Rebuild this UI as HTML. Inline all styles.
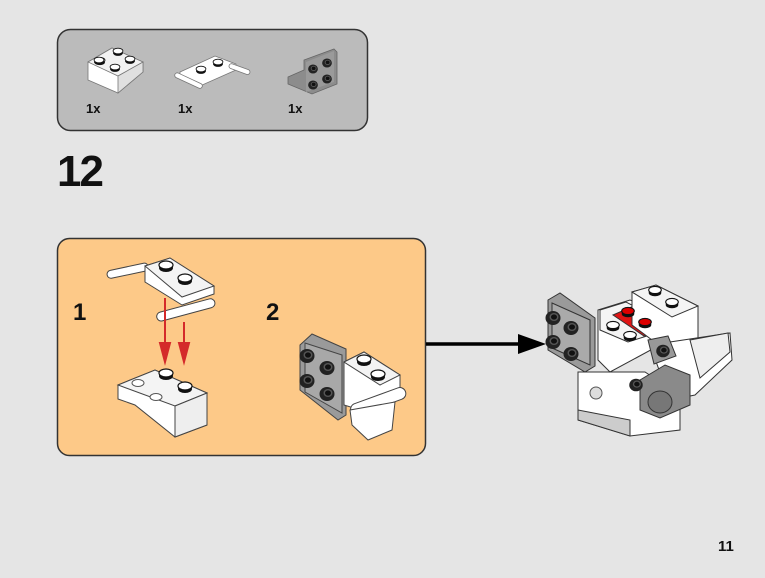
<!DOCTYPE html>
<html><head><meta charset="utf-8"><style>
html,body{margin:0;padding:0;background:#e5e5e5;width:765px;height:578px;overflow:hidden}
svg{display:block}
text{font-family:"Liberation Sans",Arial,sans-serif;font-weight:bold;fill:#111}
</style></head><body>
<svg width="765" height="578" viewBox="0 0 765 578" xmlns="http://www.w3.org/2000/svg">
<defs>
<g id="stud"><ellipse cx="0" cy="3" rx="7" ry="4" fill="#111"/><ellipse cx="0" cy="0" rx="7" ry="4" fill="#fff" stroke="#111" stroke-width="1.2"/></g>
<g id="dstud"><ellipse cx="0" cy="0" rx="7.5" ry="7" fill="#222"/><ellipse cx="1" cy="-1" rx="4.5" ry="4" fill="#555"/><ellipse cx="1" cy="-1" rx="3" ry="2.6" fill="#111"/></g>
<g id="rstud"><ellipse cx="0" cy="3" rx="7" ry="4" fill="#111"/><ellipse cx="0" cy="0" rx="7" ry="4" fill="#d00" stroke="#111" stroke-width="1.2"/></g>
</defs>
<rect width="765" height="578" fill="#e5e5e5"/>

<!-- parts box -->
<rect x="57.5" y="29.5" width="310" height="101" rx="13" fill="#bbbbbb" stroke="#333" stroke-width="1.5"/>
<!-- part1 slope -->
<g stroke="#777" stroke-width="0.8">
<polygon points="88,62 112,48 143,62 143,72 118,93 88,80" fill="#fff"/>
<polygon points="88,62 112,48 143,62 118,76" fill="#f2f2f2"/>
<polygon points="118,76 143,62 143,72 118,93" fill="#e0e0e0"/>
</g>
<use href="#stud" x="100" y="60" transform="scale(0.7) translate(43,26)"/>
<use href="#stud" x="0" y="0" transform="translate(99,60) scale(0.7)"/>
<use href="#stud" x="0" y="0" transform="translate(115,67) scale(0.7)"/>
<use href="#stud" x="0" y="0" transform="translate(118,51) scale(0.7)"/>
<use href="#stud" x="0" y="0" transform="translate(130,59) scale(0.7)"/>
<text x="86" y="113" font-size="13">1x</text>
<!-- part2 -->
<g stroke="#777" stroke-width="0.8" fill="#fff">
<polygon points="180,72 215,56 236,64 236,70 200,86 180,78"/>
<rect x="176" y="72" width="30" height="5" rx="2.5" transform="rotate(25 176 72)"/>
<rect x="230" y="63" width="22" height="5" rx="2.5" transform="rotate(20 230 63)"/>
</g>
<use href="#stud" transform="translate(201,69) scale(0.7)"/>
<use href="#stud" transform="translate(218,62) scale(0.7)"/>
<text x="178" y="113" font-size="13">1x</text>
<!-- part3 bracket -->
<polygon points="288,77 304,70 304,60 334,49 337,52 337,84 312,94 288,84" fill="#8c8c8c" stroke="#666" stroke-width="0.8"/>
<polygon points="306,62 334,51 334,82 306,92" fill="#9a9a9a"/>
<use href="#dstud" transform="translate(313,69) scale(0.65)"/>
<use href="#dstud" transform="translate(327,63) scale(0.65)"/>
<use href="#dstud" transform="translate(313,85) scale(0.65)"/>
<use href="#dstud" transform="translate(327,79) scale(0.65)"/>
<text x="288" y="113" font-size="13">1x</text>

<!-- step number -->
<text x="57" y="186" font-size="44" letter-spacing="-2">12</text>

<!-- orange panel -->
<rect x="57.5" y="238.5" width="368" height="217" rx="12" fill="#fdc988" stroke="#333" stroke-width="1.5"/>
<text x="73" y="320" font-size="24">1</text>
<text x="266" y="320" font-size="24">2</text>

<!-- sub1: top plate with bars -->
<g stroke="#444" stroke-width="1" fill="#fff">
<rect x="108" y="271" width="42" height="8" rx="4" transform="rotate(-12 108 279)"/>
<polygon points="145,266 170,258 214,286 214,294 182,305 145,282"/>
<polygon points="145,266 170,258 214,286 182,297" fill="#f4f4f4"/>
<rect x="158" y="313" width="60" height="9" rx="4.5" transform="rotate(-15 158 322)"/>
</g>
<use href="#stud" transform="translate(166,265)"/>
<use href="#stud" transform="translate(185,278)"/>
<!-- red arrows -->
<g stroke="#d42a2a" stroke-width="2" fill="#d42a2a">
<line x1="165" y1="298" x2="165" y2="345"/><polygon points="160,343 170,343 165,362"/>
<line x1="184" y1="322" x2="184" y2="343"/><polygon points="179,343 189,343 184,362"/>
</g>
<!-- sub1: bottom slope -->
<g stroke="#444" stroke-width="1">
<polygon points="118,385 155,370 207,393 207,425 175,437 135,405 118,399" fill="#fff"/>
<polygon points="118,385 155,370 207,393 175,406" fill="#f4f4f4"/>
<polygon points="175,406 207,393 207,425 175,437" fill="#eee"/>
</g>
<use href="#stud" transform="translate(166,373)"/>
<use href="#stud" transform="translate(185,386)"/>
<ellipse cx="138" cy="383" rx="6" ry="3.5" fill="#fff" stroke="#555"/>
<ellipse cx="156" cy="397" rx="6" ry="3.5" fill="#fff" stroke="#555"/>

<!-- sub2 -->
<g stroke="#444" stroke-width="1">
<polygon points="300,345 312,334 346,349 346,415 338,420 300,390" fill="#9a9a9a"/>
<polygon points="305,343 342,355 342,413 305,392" fill="#a8a8a8"/>
<polygon points="344,362 364,352 400,375 400,395 367,412 344,405" fill="#fff"/>
<polygon points="344,362 364,352 400,375 380,385" fill="#f3f3f3"/>
<rect x="353" y="405" width="58" height="12" rx="6" fill="#fff" transform="rotate(-20 353 417)"/>
<polygon points="350,410 395,402 392,430 368,440 352,425" fill="#fff"/>
</g>
<use href="#dstud" transform="translate(307,356)"/>
<use href="#dstud" transform="translate(327,368)"/>
<use href="#dstud" transform="translate(307,381)"/>
<use href="#dstud" transform="translate(327,394)"/>
<use href="#stud" transform="translate(364,359)"/>
<use href="#stud" transform="translate(378,374)"/>

<!-- arrow -->
<line x1="426" y1="344" x2="522" y2="344" stroke="#000" stroke-width="3.5"/>
<polygon points="518,334 546,344 518,354" fill="#000"/>

<!-- final model -->
<g stroke="#333" stroke-width="1">
<polygon points="578,372 645,372 680,395 680,430 630,436 578,420" fill="#fff"/>
<polygon points="578,410 630,420 630,436 578,420" fill="#ccc"/>
<polygon points="598,310 630,300 660,312 660,345 610,372 598,360" fill="#fff"/>
<polygon points="600,310 626,302 670,325 650,335 628,342 600,330" fill="#f4f4f4"/>
<polygon point="" />
<polygon points="613,315 636,305 668,325 644,336" fill="#e01515"/>
<polygon points="632,292 656,285 698,306 698,345 672,355 632,325" fill="#fff"/>
<polygon points="632,292 656,285 698,306 672,317" fill="#f4f4f4"/>
<polygon points="548,300 560,293 595,318 595,366 585,372 548,350" fill="#9a9a9a"/>
<polygon points="552,303 590,320 590,365 552,348" fill="#aaa"/>
<polygon points="650,345 730,333 732,360 695,395 670,400" fill="#fff"/>
<polygon points="690,340 728,333 730,352 700,378" fill="#eee"/>
<polygon points="640,380 665,365 690,375 690,405 660,418 640,410" fill="#8a8a8a"/>
<polygon points="648,340 668,336 676,356 654,364" fill="#999"/>
</g>
<use href="#stud" transform="translate(613,325) scale(0.9)"/>
<use href="#stud" transform="translate(630,335) scale(0.9)"/>
<use href="#rstud" transform="translate(628,311) scale(0.9)"/>
<use href="#rstud" transform="translate(645,322) scale(0.9)"/>
<use href="#stud" transform="translate(655,290) scale(0.9)"/>
<use href="#stud" transform="translate(672,302) scale(0.9)"/>
<use href="#dstud" transform="translate(553,318)"/>
<use href="#dstud" transform="translate(571,328)"/>
<use href="#dstud" transform="translate(553,342)"/>
<use href="#dstud" transform="translate(571,354)"/>
<use href="#dstud" transform="translate(663,351) scale(0.9)"/>
<use href="#dstud" transform="translate(636,385) scale(0.9)"/>
<circle cx="596" cy="393" r="6" fill="#ddd" stroke="#555"/>
<ellipse cx="660" cy="402" rx="12" ry="11" fill="#777" stroke="#333"/>

<text x="718" y="551" font-size="15">11</text>
</svg>
</body></html>
